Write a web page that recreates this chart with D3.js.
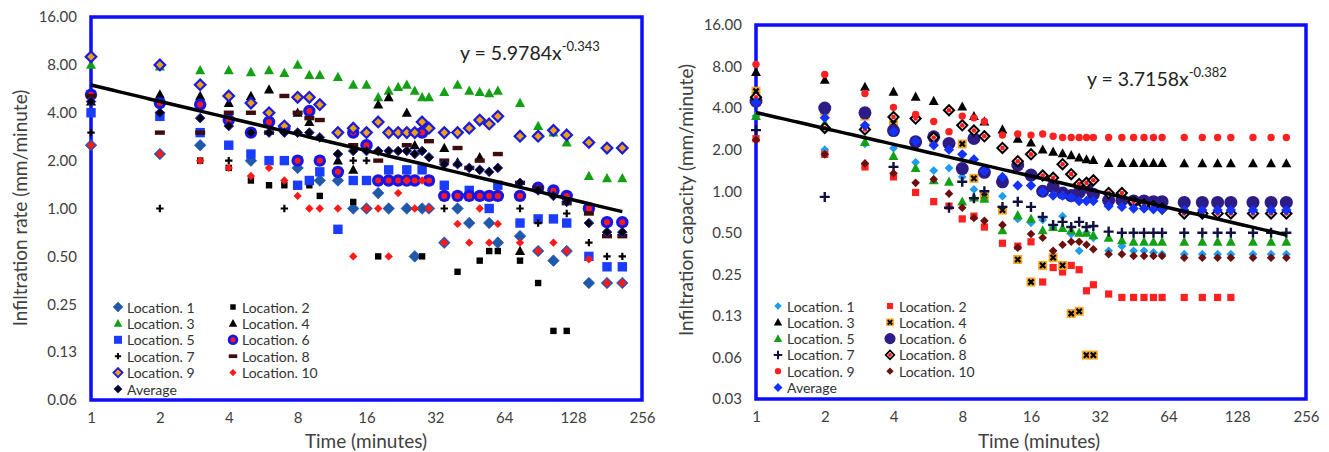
<!DOCTYPE html>
<html>
<head>
<meta charset="utf-8">
<script src="https://cdn.jsdelivr.net/npm/d3@7"></script>
<style>
  html, body { margin: 0; padding: 0; background: #fff; }
  svg text { font-family: Lato, "Open Sans", "Noto Sans", sans-serif; }
</style>
</head>
<body>
<svg id="chart" width="1329" height="452"></svg>
<script>
// ---------- DATA ----------
const timeMin = [1,2,3,4,5,6,7,8,9,10,12,14,16,18,20,22,24,26,28,30,35,40,45,50,55,60,75,90,105,120,150,180,210];

const xTickValues = [1,2,4,8,16,32,64,128,256];
const xTickLabels = ["1","2","4","8","16","32","64","128","256"];
const yTickValuesRate = [0.0625,0.125,0.25,0.5,1,2,4,8,16];
const yTickLabelsRate = ["0.06","0.13","0.25","0.50","1.00","2.00","4.00","8.00","16.00"];
const yTickValuesCap = [0.03125,0.0625,0.125,0.25,0.5,1,2,4,8,16];
const yTickLabelsCap = ["0.03","0.06","0.13","0.25","0.50","1.00","2.00","4.00","8.00","16.00"];

const legendLabels = ["Location. 1","Location. 2","Location. 3","Location. 4","Location. 5","Location. 6","Location. 7","Location. 8","Location. 9","Location. 10","Average"];

// Left panel: infiltration rate (mm/minute)
const rateLoc1  = [2.5,2.2,2.5,null,2.0,null,null,1.8,null,1.5, 1.5,1.0,1.0,1.25,1.0,null,1.0,0.5,1.0,1.0, 0.61,1.0,0.81,null,0.81,0.61,0.67,0.54,0.47,0.54, 0.34,0.34,0.34];
const rateLoc2  = [null,null,2.0,1.8,1.5,1.4,1.4,null,1.4,1.2, null,1.1,null,0.5,null,null,null,null,0.5,null, null,0.40,null,0.47,0.54,0.54,0.47,0.34,0.17,0.17, null,null,null];
const rateLoc3  = [8.0,7.8,7.4,7.4,7.2,7.4,7.1,8.0,6.9,6.9, 6.7,6.0,6.0,5.0,5.5,5.8,6.0,5.5,5.0,5.0, 5.4,6.0,5.5,5.4,5.3,5.5,4.6,3.3,3.0,2.6, 1.6,1.55,1.55];
const rateLoc4  = [4.7,5.2,5.1,4.6,5.1,5.6,null,4.0,3.5,null, 2.0,1.75,null,4.5,5.0,null,4.0,2.5,null,null, 2.4,1.95,null,2.1,null,null,0.54,null,null,null, null,null,null];
const rateLoc5  = [4.0,3.8,3.0,2.5,2.2,2.0,2.0,1.4,1.5,1.7, 0.74,1.5,1.5,null,1.75,null,1.75,null,1.75,1.5, 1.4,null,1.3,null,1.0,1.4,0.81,0.86,0.86,0.81, 0.5,0.43,0.43];
const rateLoc6  = [5.2,4.6,4.5,3.6,3.0,3.5,3.2,2.0,4.1,2.0, 1.7,3.0,2.5,1.5,1.5,1.5,1.5,1.5,3.0,1.5, 1.2,1.2,1.2,1.2,1.2,1.2,1.2,1.35,1.3,1.2, 1.0,0.82,0.82];
const rateLoc7  = [3.0,1.0,null,2.0,null,null,1.0,null,null,null, null,2.0,2.0,null,null,null,null,null,null,null, 1.0,null,null,null,null,null,1.0,0.81,null,0.93, 0.61,0.5,0.5];
const rateLoc8  = [5.1,3.0,3.0,4.0,4.0,3.0,5.1,4.0,3.7,3.6, null,2.5,null,2.0,null,null,2.5,null,null,2.65, 2.0,2.4,1.8,2.0,null,2.2,1.45,1.35,null,1.08, 0.93,0.67,0.67];
const rateLoc9  = [9.0,8.0,6.0,5.1,4.6,4.0,3.3,5.0,5.0,4.5, 3.0,3.2,3.0,3.5,3.0,3.0,3.0,3.0,3.5,3.2, 3.0,3.0,3.2,3.6,3.4,3.8,2.85,2.85,3.1,2.9, 2.6,2.4,2.4];
const rateLoc10 = [2.5,2.2,2.0,1.8,1.6,1.8,1.5,1.2,1.0,1.0, 1.0,0.5,1.0,1.0,0.5,1.25,1.5,1.0,1.5,1.0, 0.61,0.8,0.61,1.0,0.61,0.8,0.61,0.54,0.61,0.54, 0.48,0.34,0.34];
const rateAvg   = [4.7,4.0,3.7,3.3,3.0,3.0,3.0,3.0,3.0,2.8, 2.2,2.3,2.3,2.3,2.3,2.3,2.3,2.2,2.3,2.1, 1.9,1.9,1.8,1.75,1.7,1.8,1.45,1.3,1.2,1.1, 0.81,0.71,0.71];

// Right panel: infiltration capacity (mm/minute)
const capLoc1  = [3.5,2.0,2.2,2.05,1.62,1.41,1.47,1.27,1.03,0.95, 0.92,0.63,0.59,0.62,0.55,0.66,0.49,0.37,0.5,0.46, 0.37,0.40,0.37,0.37,0.36,0.35,0.35,0.35,0.35,0.35, 0.35,0.35,0.35];
const capLoc2  = [2.4,1.85,1.5,1.27,0.98,0.84,0.78,0.63,0.66,0.55, 0.42,0.4,0.43,0.22,0.28,0.26,0.29,0.27,0.19,0.21, 0.18,0.17,0.17,0.17,0.17,0.17,0.17,0.17,0.17,0.17, null,null,null];
const capLoc3  = [7.3,6.4,5.7,5.25,4.83,4.5,null,4.1,3.5,3.2, 2.8,2.4,2.25,2.0,1.93,1.88,1.82,1.75,1.7,1.68, 1.6,1.6,1.6,1.6,1.6,1.6,1.59,1.59,1.59,1.59, 1.59,1.59,1.59];
const capLoc4  = [5.3,3.8,3.5,3.1,2.3,2.35,null,2.2,1.24,0.92, 0.73,0.32,0.22,0.29,0.33,0.29,0.13,0.135,0.065,0.065, null,null,null,null,null,null,null,null,null,null, null,null,null];
const capLoc5  = [3.5,3.1,2.27,1.8,1.47,1.2,1.17,0.84,0.9,0.88, 0.52,0.67,0.63,0.52,0.55,0.54,0.52,0.5,0.5,0.48, 0.46,0.44,0.43,0.43,0.43,0.43,0.43,0.43,0.43,0.43, 0.43,0.43,0.43];
const capLoc6  = [4.5,4.0,3.7,2.75,2.28,2.48,2.22,1.46,2.41,1.37, 1.17,1.55,1.31,1.0,1.08,0.97,0.93,0.98,1.07,0.95, 0.86,0.86,0.85,0.85,0.84,0.84,0.83,0.83,0.83,0.83, 0.83,0.83,0.83];
const capLoc7  = [2.77,0.91,null,1.5,null,null,0.76,1.17,0.89,1.0, 0.77,0.84,0.77,0.65,0.57,0.6,0.55,0.6,0.55,0.56, 0.51,0.5,0.5,0.5,0.5,0.5,0.5,0.5,0.5,0.5, 0.5,0.5,0.5];
const capLoc8  = [4.8,2.87,2.8,3.45,3.36,2.45,3.86,3.0,2.75,2.5, 2.06,1.65,1.85,1.3,1.25,1.57,1.33,1.13,1.15,1.2, 0.97,0.97,0.84,0.8,0.78,0.75,0.69,0.69,0.69,0.69, 0.69,0.69,0.69];
const capLoc9  = [8.3,7.0,5.1,4.05,3.6,3.2,2.7,3.5,3.4,3.2, 2.55,2.6,2.55,2.6,2.5,2.45,2.45,2.45,2.45,2.45, 2.45,2.45,2.45,2.45,2.45,2.45,2.45,2.45,2.45,2.45, 2.45,2.45,2.45];
const capLoc10 = [2.35,1.85,1.59,1.35,1.15,1.22,0.96,0.76,0.64,0.61, 0.57,0.39,0.49,0.46,0.37,0.41,0.43,0.43,0.41,0.38, 0.35,0.35,0.34,0.34,0.34,0.34,0.33,0.33,0.33,0.33, 0.33,0.33,0.33];
const capAvg   = [4.4,3.4,3.0,2.7,2.3,2.15,2.0,1.85,1.7,1.4, 1.27,1.1,1.1,0.99,0.93,0.93,0.9,0.85,0.85,0.85, 0.78,0.77,0.75,0.75,0.74,0.74,0.73,0.73,0.73,0.73, 0.73,0.73,0.73];

// Power-law trend lines (from the chart's equations)
const rateTrend = { a: 5.9784, b: -0.343, label: "y = 5.9784x", exp: "-0.343" };
const capTrend  = { a: 3.7158, b: -0.382, label: "y = 3.7158x", exp: "-0.382" };

// ---------- MARKERS ----------
const diamondPath = r => `M0,${-r}L${r},0L0,${r}L${-r},0Z`;
const triPath = r => `M0,${-r}L${r*0.95},${r*0.75}L${-r*0.95},${r*0.75}Z`;
const crossPath = (a, w) => `M${-w/2},${-a}H${w/2}V${-w/2}H${a}V${w/2}H${w/2}V${a}H${-w/2}V${w/2}H${-a}V${-w/2}H${-w/2}Z`;

function drawMarker(g, type) {
  switch (type) {
    // left panel styles
    case "rL1": g.append("path").attr("d", diamondPath(5.8)).attr("fill", "#1f5aa8").attr("stroke", "#2346c8").attr("stroke-width", 0.6); break;
    case "rL2": g.append("rect").attr("x", -3.2).attr("y", -3.2).attr("width", 6.4).attr("height", 6.4).attr("fill", "#000"); break;
    case "rL3": g.append("path").attr("d", triPath(5.3)).attr("fill", "#14a014"); break;
    case "rL4": g.append("path").attr("d", triPath(5.3)).attr("fill", "#000"); break;
    case "rL5": g.append("rect").attr("x", -4.7).attr("y", -4.7).attr("width", 9.4).attr("height", 9.4).attr("fill", "#1a3cff"); break;
    case "rL6": g.append("circle").attr("r", 6.2).attr("fill", "#1616e8");
                g.append("circle").attr("r", 3).attr("fill", "#ff1a1a"); break;
    case "rL7": g.append("path").attr("d", crossPath(3.7, 2.2)).attr("fill", "#000"); break;
    case "rL8": g.append("rect").attr("x", -5).attr("y", -2.2).attr("width", 10).attr("height", 4.4).attr("fill", "#3d0c0c"); break;
    case "rL9": g.append("path").attr("d", diamondPath(5.3)).attr("fill", "#f0a010").attr("stroke", "#1a1ae0").attr("stroke-width", 2.2); break;
    case "rL10": g.append("path").attr("d", diamondPath(4.2)).attr("fill", "#ff1a1a"); break;
    case "rAvg": g.append("path").attr("d", diamondPath(4.8)).attr("fill", "#000").attr("stroke", "#2020c0").attr("stroke-width", 1); break;
    // right panel styles
    case "cL1": g.append("path").attr("d", diamondPath(4.4)).attr("fill", "#1e9cf0"); break;
    case "cL2": g.append("rect").attr("x", -3.6).attr("y", -3.6).attr("width", 7.2).attr("height", 7.2).attr("fill", "#ff2020"); break;
    case "cL3": g.append("path").attr("d", triPath(5.2)).attr("fill", "#000"); break;
    case "cL4": g.append("rect").attr("x", -4.5).attr("y", -4.5).attr("width", 9).attr("height", 9).attr("fill", "#f5a623");
                g.append("path").attr("d", "M-2.6,-2.6L2.6,2.6M2.6,-2.6L-2.6,2.6").attr("stroke", "#000").attr("stroke-width", 2.2); break;
    case "cL5": g.append("path").attr("d", triPath(5.2)).attr("fill", "#14a014"); break;
    case "cL6": g.append("circle").attr("r", 6.5).attr("fill", "#2d1b86"); break;
    case "cL7": g.append("path").attr("d", crossPath(5, 2.4)).attr("fill", "#10103f"); break;
    case "cL8": g.append("path").attr("d", diamondPath(6.5)).attr("fill", "#000");
                g.append("path").attr("d", diamondPath(3.6)).attr("fill", "#fff");
                g.append("circle").attr("r", 2.3).attr("fill", "#ff1a1a"); break;
    case "cL9": g.append("circle").attr("r", 3.7).attr("fill", "#ff2020"); break;
    case "cL10": g.append("path").attr("d", diamondPath(4.3)).attr("fill", "#6a1010"); break;
    case "cAvg": g.append("path").attr("d", diamondPath(5.2)).attr("fill", "#1432ff"); break;
  }
}

const svg = d3.select("#chart");
svg.append("rect").attr("width", 1329).attr("height", 452).attr("fill", "#fff");

function drawPanel(cfg) {
  const x = d3.scaleLog().base(2).domain([1, 256]).range([cfg.left, cfg.right]);
  const y = d3.scaleLog().base(2).domain(cfg.yDomain).range([cfg.bottom, cfg.top]);
  const g = svg.append("g");

  // axes (labels only)
  const ya = g.append("g").attr("transform", `translate(${cfg.left},0)`)
    .call(d3.axisLeft(y).tickValues(cfg.yTicks).tickFormat((d, i) => cfg.yLabels[i]).tickSize(0).tickPadding(14));
  ya.select(".domain").remove();
  ya.selectAll("text").attr("font-size", 15).attr("fill", "#404040").attr("font-family", "Lato, 'Open Sans', sans-serif");

  const xa = g.append("g").attr("transform", `translate(0,${cfg.bottom})`)
    .call(d3.axisBottom(x).tickValues(xTickValues).tickFormat((d, i) => xTickLabels[i]).tickSize(0).tickPadding(12));
  xa.select(".domain").remove();
  xa.selectAll("text").attr("font-size", 15).attr("fill", "#404040").attr("font-family", "Lato, 'Open Sans', sans-serif");

  // titles
  g.append("text").attr("x", cfg.xTitleX).attr("y", 448).attr("text-anchor", "middle")
    .attr("font-size", 19).attr("fill", "#404040").text("Time (minutes)");
  g.append("text").attr("transform", `translate(${cfg.yTitleX},${cfg.yTitleY}) rotate(-90)`)
    .attr("text-anchor", "middle").attr("dominant-baseline", "central")
    .attr("font-size", 19).attr("fill", "#404040").text(cfg.yTitle);

  // plot border
  g.append("rect").attr("x", cfg.left).attr("y", cfg.top)
    .attr("width", cfg.right - cfg.left).attr("height", cfg.bottom - cfg.top)
    .attr("fill", "none").attr("stroke", "#0d0dff").attr("stroke-width", 3.5);

  // markers
  cfg.series.forEach(s => {
    const pts = timeMin.map((t, i) => ({ t, v: s.values[i] })).filter(d => d.v != null);
    g.append("g").selectAll("g").data(pts).join("g")
      .attr("transform", d => `translate(${x(d.t)},${y(d.v)})`)
      .each(function () { drawMarker(d3.select(this), s.style); });
  });

  // trend line
  const tr = cfg.trend;
  const tSamples = d3.range(0, 101).map(i => Math.pow(2, Math.log2(210) * i / 100));
  g.append("path")
    .attr("d", d3.line().x(t => x(t)).y(t => y(tr.a * Math.pow(t, tr.b)))(tSamples))
    .attr("fill", "none").attr("stroke", "#000").attr("stroke-width", 3.5);

  // equation
  const eq = g.append("text").attr("x", cfg.eqX).attr("y", cfg.eqY).attr("font-size", 19.5).attr("fill", "#222");
  eq.append("tspan").text(tr.label);
  eq.append("tspan").attr("dy", -9).attr("font-size", 13).text(tr.exp);

  // legend
  cfg.series.forEach((s, i) => {
    const col = i % 2, row = Math.floor(i / 2);
    const lx = cfg.legX[col], ly = cfg.legY0 + row * cfg.legDY;
    const lg = g.append("g").attr("transform", `translate(${lx},${ly})`);
    const mk = lg.append("g").attr("transform", "scale(0.85)");
    drawMarker(mk, s.style);
    lg.append("text").attr("x", 9).attr("y", 0).attr("dominant-baseline", "central")
      .attr("font-size", 14).attr("fill", "#333").text(legendLabels[i]);
  });
}

drawPanel({
  left: 91, right: 642, top: 17, bottom: 400,
  yDomain: [0.0625, 16], yTicks: yTickValuesRate, yLabels: yTickLabelsRate,
  yTitle: "Infiltration rate (mm/minute)", yTitleX: 19, yTitleY: 208, xTitleX: 366,
  trend: rateTrend, eqX: 460, eqY: 60,
  legX: [118, 233], legY0: 307, legDY: 16.4,
  series: [
    { values: rateLoc1, style: "rL1" }, { values: rateLoc2, style: "rL2" },
    { values: rateLoc3, style: "rL3" }, { values: rateLoc4, style: "rL4" },
    { values: rateLoc5, style: "rL5" }, { values: rateLoc6, style: "rL6" },
    { values: rateLoc7, style: "rL7" }, { values: rateLoc8, style: "rL8" },
    { values: rateLoc9, style: "rL9" }, { values: rateLoc10, style: "rL10" },
    { values: rateAvg, style: "rAvg" }
  ]
});

drawPanel({
  left: 756, right: 1306, top: 25, bottom: 399,
  yDomain: [0.03125, 16], yTicks: yTickValuesCap, yLabels: yTickLabelsCap,
  yTitle: "Infiltration capacity (mm/minute)", yTitleX: 685, yTitleY: 200, xTitleX: 1039,
  trend: capTrend, eqX: 1087, eqY: 86,
  legX: [778, 890], legY0: 306, legDY: 16.3,
  series: [
    { values: capLoc1, style: "cL1" }, { values: capLoc2, style: "cL2" },
    { values: capLoc3, style: "cL3" }, { values: capLoc4, style: "cL4" },
    { values: capLoc5, style: "cL5" }, { values: capLoc6, style: "cL6" },
    { values: capLoc7, style: "cL7" }, { values: capLoc8, style: "cL8" },
    { values: capLoc9, style: "cL9" }, { values: capLoc10, style: "cL10" },
    { values: capAvg, style: "cAvg" }
  ]
});
</script>
</body>
</html>
